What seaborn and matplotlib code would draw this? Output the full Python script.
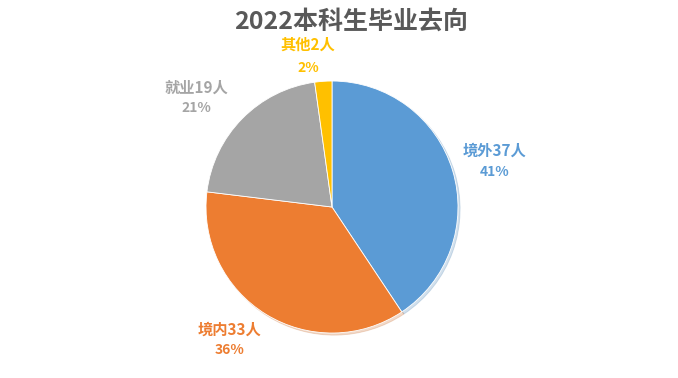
import matplotlib
matplotlib.use("Agg")
import matplotlib.pyplot as plt
import seaborn as sns

categories = ["境外", "境内", "就业", "其他"]
counts = [37, 33, 19, 2]
percents = ["41%", "36%", "21%", "2%"]
colors = ["#5B9BD5", "#ED7D31", "#A5A5A5", "#FFC000"]
title = "2022本科生毕业去向"

sns.set_theme(style="white")
plt.rcParams['font.family'] = ['Noto Sans CJK SC', 'DejaVu Sans']

fig = plt.figure(figsize=(6.78, 3.78), dpi=100)
ax = fig.add_axes([0, 0, 1, 1])
ax.pie(counts, colors=colors, startangle=90, counterclock=False, radius=1.0,
       wedgeprops=dict(edgecolor="white", linewidth=0.6),
       shadow=dict(ox=0.012, oy=-0.012, shade=0.15, alpha=0.25))
ax.set_xlim(-2.635, 2.746)
ax.set_ylim(-1.357, 1.643)
ax.set_aspect("auto")
ax.axis("off")

label_pos = [(1.29, 0.445, 0.278), (-0.81, -0.976, -1.135),
             (-1.075, 0.944, 0.786), (-0.19, 1.286, 1.103)]
for cat, n, p, c, (x, y1, y2) in zip(categories, counts, percents, colors, label_pos):
    ax.text(x, y1, f"{cat}{n}人", color=c, fontsize=11, fontweight="bold",
            ha="center", va="center")
    ax.text(x, y2, p, color=c, fontsize=10, fontweight="bold",
            ha="center", va="center")

ax.text(0.15, 1.468, title, color="#595959", fontsize=18, fontweight="bold",
        ha="center", va="center")

fig.savefig("out.png", dpi=100, facecolor="white")
